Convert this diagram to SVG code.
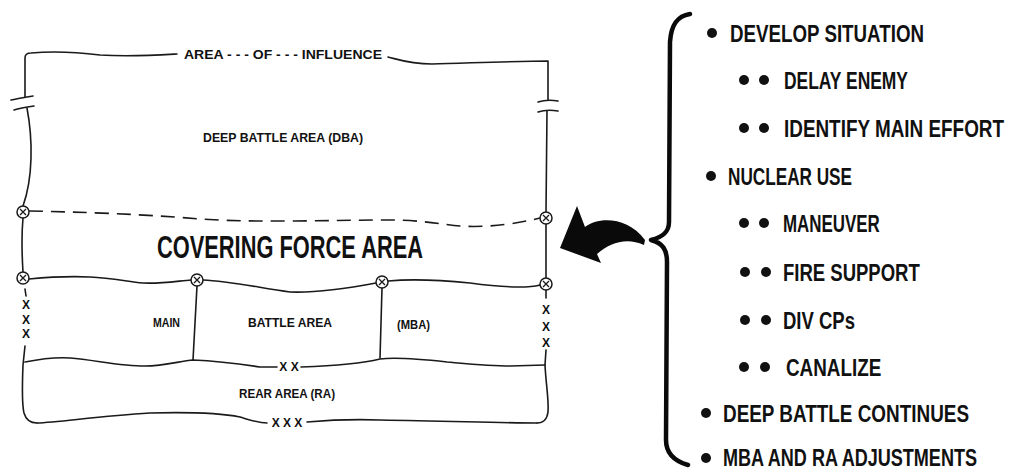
<svg xmlns="http://www.w3.org/2000/svg" width="1014" height="470" viewBox="0 0 1014 470">
<defs>
<style>
.ln{fill:none;stroke:#1a1a1a;stroke-width:1.6;stroke-linecap:round;stroke-linejoin:round}
.dash{fill:none;stroke:#1a1a1a;stroke-width:1.6;stroke-dasharray:14 8}
.sm{font-family:"Liberation Sans",Arial,sans-serif;font-weight:bold;font-size:12px;fill:#111}
.big{font-family:"Liberation Sans",Arial,sans-serif;font-weight:bold;font-size:31px;fill:#111}
.li{font-family:"Liberation Sans",Arial,sans-serif;font-weight:bold;font-size:24px;fill:#111}
.bul{fill:#111}
.xc{fill:#fff;stroke:#1a1a1a;stroke-width:1.5}
</style>
<g id="otimes">
<circle class="xc" cx="0" cy="0" r="6"/>
<path d="M-3,-3L3,3M3,-3L-3,3" stroke="#1a1a1a" stroke-width="1.3"/>
</g>
</defs>
<rect width="1014" height="470" fill="#fff"/>

<g id="connectors">
<path class="ln" d="M25,97 L25,58 Q25,53 31,53 C55,51 75,52 100,55 C130,57 160,55 177,54"/>
<path class="ln" d="M388,57 C400,60 410,64 432,64 C470,63 520,61 548,61 L548,100"/>
<path class="ln" d="M11,100 C17,99 25,97 33,96"/>
<path class="ln" d="M14,110 C20,108 27,107 34,106"/>
<path class="ln" d="M538,102 C544,100 552,100 558,101"/>
<path class="ln" d="M538,112 C544,110 552,110 558,111"/>
<path class="ln" d="M27,108 C33,140 33,178 23,206"/>
<path class="ln" d="M547,111 L546,212"/>
<path class="ln" d="M23,218 C21,240 22,255 23,272"/>
<path class="ln" d="M546,224 L546,278"/>
<path class="ln" d="M25,289 L26,296"/>
<path class="ln" d="M546,290 L546,298"/>
<path class="ln" d="M25,346 L23,365 C22,390 22,405 24,413 C26,420 30,423 37,423"/>
<path class="ln" d="M546,350 L545,365 C546,385 549,400 548,412 C547,420 543,423 537,423"/>
<path class="dash" d="M29,211 C80,212 140,214 200,219 C260,223 330,220 390,220 C420,220 440,224 460,226 C490,228 520,223 540,218"/>
<path class="ln" d="M29,279 C50,277 70,276 90,277 C110,278 125,281 143,283 C160,284 178,281 191,280"/>
<path class="ln" d="M203,280 C230,281 260,288 290,292 C320,293 350,288 376,283"/>
<path class="ln" d="M388,281 C410,279 440,280 470,283 C500,287 525,289 540,285"/>
<path class="ln" d="M197,286 L193,360"/>
<path class="ln" d="M382,288 L380,358"/>
<path class="ln" d="M25,362 C40,359 55,357 70,358 C95,360 120,366 145,366 C165,366 180,361 193,360 C215,361 240,364 260,367 L277,367"/>
<path class="ln" d="M301,367 C330,366 360,364 380,359 C395,357 420,359 447,362 C470,364 490,366 510,366 L545,365"/>
<path class="ln" d="M37,423 C60,422 100,416 150,413 C190,412 220,413 240,417 C250,420 258,423 267,423"/>
<path class="ln" d="M307,422 C330,420 350,419 380,420 C450,421 500,423 537,423"/>
<use href="#otimes" x="23" y="212"/>
<use href="#otimes" x="546" y="218"/>
<use href="#otimes" x="23" y="278"/>
<use href="#otimes" x="197" y="280"/>
<use href="#otimes" x="382" y="282"/>
<use href="#otimes" x="546" y="284"/>
</g>

<g id="area-of-influence">
<text class="sm" x="184" y="59" textLength="198" lengthAdjust="spacingAndGlyphs">AREA - - - OF - - - INFLUENCE</text>
</g>
<g id="deep-battle-area">
<text class="sm" x="203" y="142" font-size="13" textLength="160" lengthAdjust="spacingAndGlyphs">DEEP BATTLE AREA (DBA)</text>
</g>
<g id="covering-force-area">
<text class="big" x="157" y="258" textLength="266" lengthAdjust="spacingAndGlyphs">COVERING FORCE AREA</text>
</g>
<g id="main-battle-area">
<text class="sm" x="153" y="327" textLength="27" lengthAdjust="spacingAndGlyphs">MAIN</text>
<text class="sm" x="248" y="327" textLength="84" lengthAdjust="spacingAndGlyphs">BATTLE AREA</text>
<text class="sm" x="397" y="329" textLength="33" lengthAdjust="spacingAndGlyphs">(MBA)</text>
</g>
<g id="boundary-symbols" class="sm" text-anchor="middle">
<text x="26" y="309">X</text>
<text x="26" y="324">X</text>
<text x="26" y="338">X</text>
<text x="546" y="314">X</text>
<text x="546" y="331">X</text>
<text x="546" y="347">X</text>
<text x="289" y="371">X X</text>
<text x="287" y="427">X X X</text>
</g>
<g id="rear-area">
<text class="sm" x="239" y="398" textLength="96" lengthAdjust="spacingAndGlyphs">REAR AREA (RA)</text>
</g>

<g id="arrow">
<path fill="#0a0a0a" d="M577,206 L585,227 C598,217 627,216 645,240 L644,245 C626,237 610,243 597,254 L601,263 L560,248 Z"/>
</g>

<g id="brace">
<path fill="none" stroke="#0a0a0a" stroke-width="4.5" stroke-linecap="round" stroke-linejoin="round" d="M690,14 C677,16 671,25 670,42 L669,222 C669,232 663,237 651,240 C663,243 667,250 667,262 L666,440 C666,453 674,461 688,465"/>
</g>

<g id="list">
<g id="item-develop"><circle class="bul" cx="712" cy="33" r="5"/><text class="li" transform="translate(730,42) scale(0.8,1)" textLength="242.5" lengthAdjust="spacingAndGlyphs">DEVELOP SITUATION</text></g>
<g id="item-delay"><circle class="bul" cx="744" cy="80" r="5"/><circle class="bul" cx="764" cy="80" r="5"/><text class="li" transform="translate(784,89) scale(0.8,1)" textLength="155" lengthAdjust="spacingAndGlyphs">DELAY ENEMY</text></g>
<g id="item-identify"><circle class="bul" cx="744" cy="128" r="5"/><circle class="bul" cx="764" cy="128" r="5"/><text class="li" transform="translate(784,137) scale(0.8,1)" textLength="275" lengthAdjust="spacingAndGlyphs">IDENTIFY MAIN EFFORT</text></g>
<g id="item-nuclear"><circle class="bul" cx="711" cy="176" r="5"/><text class="li" transform="translate(728,185) scale(0.8,1)" textLength="155" lengthAdjust="spacingAndGlyphs">NUCLEAR USE</text></g>
<g id="item-maneuver"><circle class="bul" cx="744" cy="223" r="5"/><circle class="bul" cx="764" cy="223" r="5"/><text class="li" transform="translate(783,232) scale(0.8,1)" textLength="121" lengthAdjust="spacingAndGlyphs">MANEUVER</text></g>
<g id="item-fire"><circle class="bul" cx="745" cy="272" r="5"/><circle class="bul" cx="766" cy="272" r="5"/><text class="li" transform="translate(783,281) scale(0.8,1)" textLength="171" lengthAdjust="spacingAndGlyphs">FIRE SUPPORT</text></g>
<g id="item-div"><circle class="bul" cx="745" cy="320" r="5"/><circle class="bul" cx="766" cy="320" r="5"/><text class="li" transform="translate(783,329) scale(0.8,1)" textLength="90" lengthAdjust="spacingAndGlyphs">DIV CPs</text></g>
<g id="item-canalize"><circle class="bul" cx="744" cy="367" r="5"/><circle class="bul" cx="765" cy="367" r="5"/><text class="li" transform="translate(786,376) scale(0.8,1)" textLength="119" lengthAdjust="spacingAndGlyphs">CANALIZE</text></g>
<g id="item-deep"><circle class="bul" cx="706" cy="413" r="5"/><text class="li" transform="translate(723,422) scale(0.8,1)" textLength="307.5" lengthAdjust="spacingAndGlyphs">DEEP BATTLE CONTINUES</text></g>
<g id="item-mba"><circle class="bul" cx="706" cy="458" r="5"/><text class="li" transform="translate(723,466) scale(0.8,1)" textLength="317.5" lengthAdjust="spacingAndGlyphs">MBA AND RA ADJUSTMENTS</text></g>
</g>
</svg>
